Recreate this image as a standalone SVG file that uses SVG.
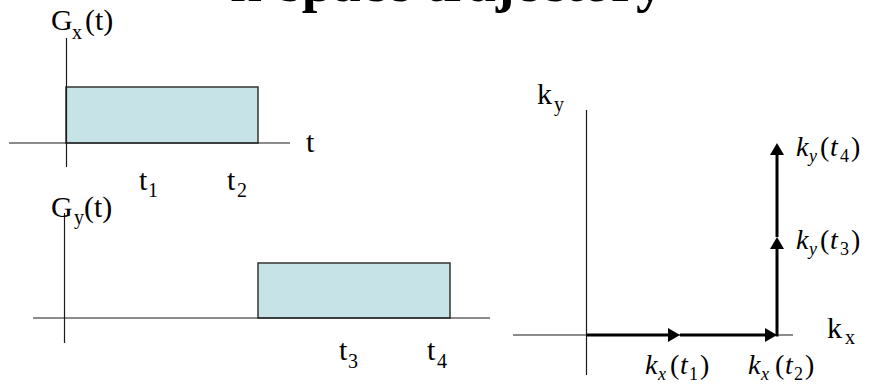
<svg xmlns="http://www.w3.org/2000/svg" width="870" height="385" viewBox="0 0 870 385" font-family="'Liberation Serif', 'DejaVu Serif', serif">
<defs>
<style>
text{font-family:"Liberation Serif","DejaVu Serif",serif;fill:#000;}
.lbl{font-size:30px;}
.sub{font-size:20px;}
.math{font-size:28px;}
.msub{font-size:18px;}
.it{font-style:italic;}
.title{font-size:56px;font-weight:bold;}
.axis{stroke:#1a1a1a;stroke-width:1.2;fill:none;}
.pulse{fill:#c6e4e7;stroke:#333;stroke-width:1.5;}
.traj{stroke:#000;stroke-width:3;fill:none;marker-end:url(#ah);}
</style>
<marker id="ah" viewBox="0 0 12 14" refX="2" refY="7" markerWidth="12" markerHeight="14" markerUnits="userSpaceOnUse" orient="auto">
<path d="M0,0 L12,7 L0,14 z" fill="#000"/>
</marker>
</defs>

<text id="title" class="title" x="447" y="1" text-anchor="middle">k-space trajectory</text>

<g id="gx-plot">
<rect class="pulse" x="66" y="87" width="192" height="56"/>
<line class="axis" x1="66.5" y1="38" x2="66.5" y2="167"/>
<line class="axis" x1="9" y1="143" x2="290" y2="143"/>
<text class="lbl" x="51" y="30">G<tspan class="sub" x="72" y="39">x</tspan><tspan x="85" y="30">(t)</tspan></text>
<text class="lbl" x="306" y="152">t</text>
<text class="lbl" x="139" y="190">t<tspan class="sub" x="148" y="197">1</tspan></text>
<text class="lbl" x="227" y="190">t<tspan class="sub" x="237" y="197">2</tspan></text>
</g>

<g id="gy-plot">
<rect class="pulse" x="258" y="263" width="192" height="55"/>
<line class="axis" x1="64.5" y1="213" x2="64.5" y2="343"/>
<line class="axis" x1="33" y1="318" x2="490" y2="318"/>
<text class="lbl" x="51" y="217">G<tspan class="sub" x="74" y="224">y</tspan><tspan x="84" y="217">(t)</tspan></text>
<text class="lbl" x="339" y="360">t<tspan class="sub" x="348" y="368">3</tspan></text>
<text class="lbl" x="427" y="360">t<tspan class="sub" x="437" y="368">4</tspan></text>
</g>

<g id="k-plane">
<line class="axis" x1="586.5" y1="110" x2="586.5" y2="375"/>
<line class="axis" x1="513" y1="335" x2="793" y2="335"/>
<text class="lbl" x="537" y="104">k<tspan class="sub" x="554" y="111">y</tspan></text>
<text class="lbl" x="827" y="338">k<tspan class="sub" x="845" y="344">x</tspan></text>
</g>

<g id="connectors">
<line class="traj" x1="587" y1="335" x2="670" y2="335"/>
<line class="traj" x1="680" y1="335" x2="767" y2="335"/>
<line class="traj" x1="777" y1="336.5" x2="777" y2="247"/>
<line class="traj" x1="777" y1="237" x2="777" y2="153"/>
</g>

<g id="k-labels">
<text class="math" x="645" y="374"><tspan class="it">k</tspan><tspan class="msub it" x="658" y="380">x</tspan><tspan x="670" y="374">(</tspan><tspan class="it" x="680" y="374">t</tspan><tspan class="msub" x="689" y="380">1</tspan><tspan x="700" y="374">)</tspan></text>
<text class="math" x="748" y="374"><tspan class="it">k</tspan><tspan class="msub it" x="761" y="380">x</tspan><tspan x="775" y="374">(</tspan><tspan class="it" x="785" y="374">t</tspan><tspan class="msub" x="794" y="380">2</tspan><tspan x="805" y="374">)</tspan></text>
<text class="math" x="796" y="156"><tspan class="it">k</tspan><tspan class="msub it" x="809" y="162">y</tspan><tspan x="820" y="156">(</tspan><tspan class="it" x="830" y="156">t</tspan><tspan class="msub" x="840" y="162">4</tspan><tspan x="851" y="156">)</tspan></text>
<text class="math" x="796" y="249"><tspan class="it">k</tspan><tspan class="msub it" x="809" y="255">y</tspan><tspan x="820" y="249">(</tspan><tspan class="it" x="830" y="249">t</tspan><tspan class="msub" x="840" y="255">3</tspan><tspan x="851" y="249">)</tspan></text>
</g>
</svg>
